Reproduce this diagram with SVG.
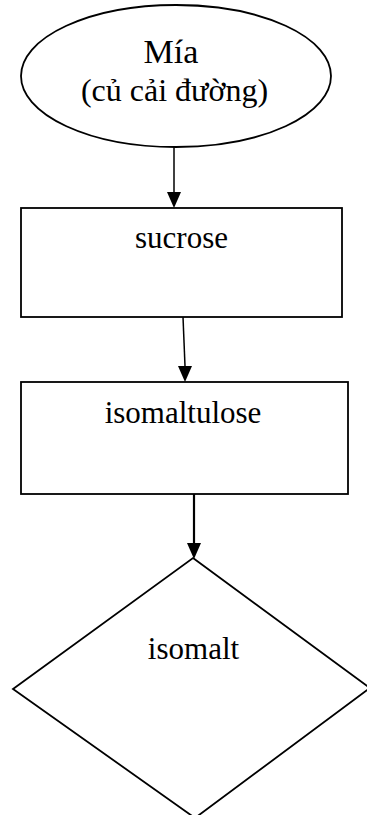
<svg xmlns="http://www.w3.org/2000/svg" width="367" height="815" viewBox="0 0 367 815">
<style>
.shape{fill:#fff;stroke:#000;stroke-width:1.8}
.lbl{font-family:"Liberation Serif","Times New Roman",serif;font-size:31px;fill:#000;text-anchor:middle}
.conn{stroke:#000;stroke-width:1.5;fill:none}
</style>
<rect width="367" height="815" fill="#fff"/>
<g id="node-mia">
<ellipse class="shape" cx="176" cy="76" rx="155" ry="71"/>
<text class="lbl" x="171" y="63" style="font-size:34px">Mía</text>
<text class="lbl" x="174.5" y="101" style="font-size:32px">(củ cải đường)</text>
</g>
<g id="node-sucrose">
<rect class="shape" x="21" y="208" width="321" height="109"/>
<text class="lbl" x="181.5" y="248">sucrose</text>
</g>
<g id="node-isomaltulose">
<rect class="shape" x="21" y="382" width="327" height="112"/>
<text class="lbl" x="183" y="423">isomaltulose</text>
</g>
<g id="node-isomalt">
<polygon class="shape" points="193,558 370,688 195,818 13,689"/>
<text class="lbl" x="193.5" y="659">isomalt</text>
</g>
<g id="connectors">
<line class="conn" x1="174" y1="147" x2="174" y2="192"/>
<path d="M167,192 L181,192 L174,208 Z" fill="#000"/>
<line class="conn" x1="183" y1="317" x2="185" y2="366"/>
<path d="M178,366 L192,366 L185,382 Z" fill="#000"/>
<line class="conn" x1="194" y1="494" x2="194" y2="543" style="stroke-width:2.2"/>
<path d="M187,543 L201,543 L194,559 Z" fill="#000"/>
</g>
</svg>
